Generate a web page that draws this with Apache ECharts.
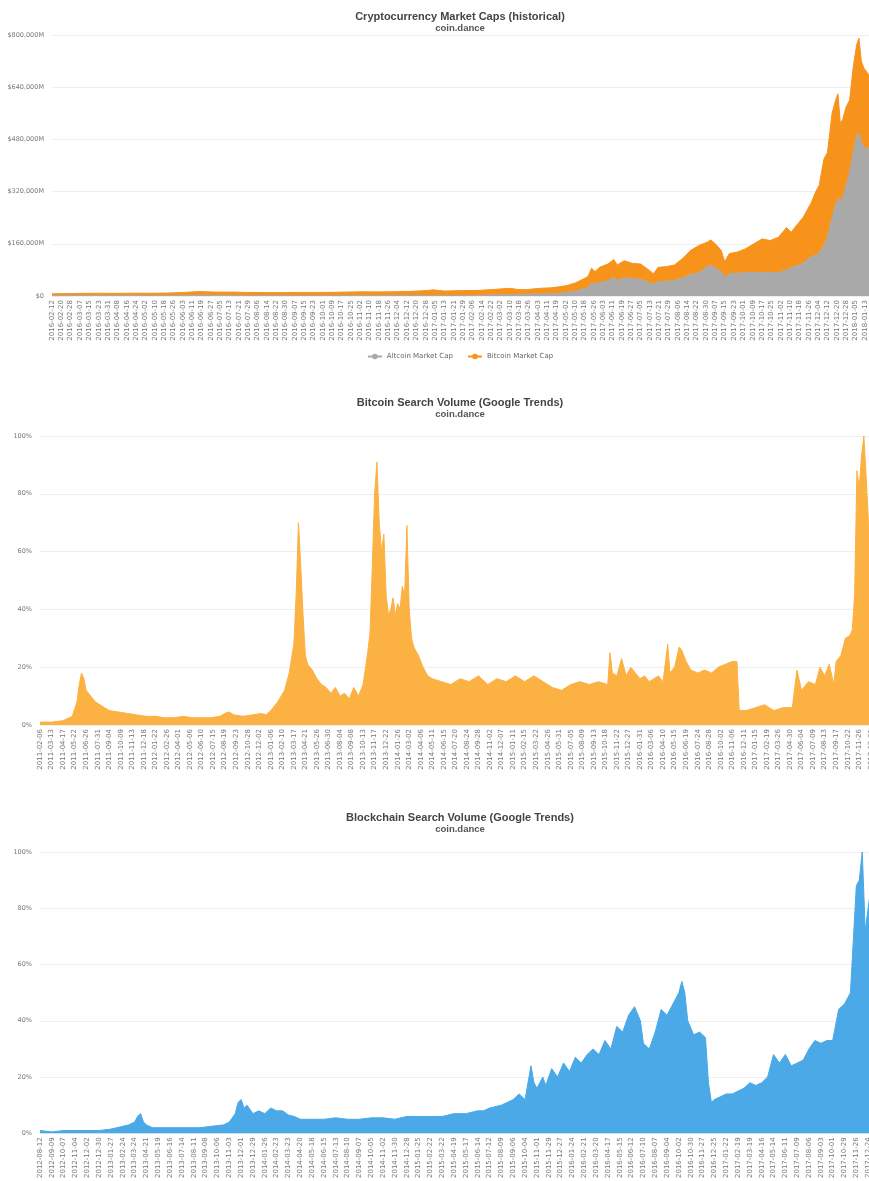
<!DOCTYPE html>
<html><head><meta charset="utf-8">
<script src="https://cdn.jsdelivr.net/npm/echarts@6/dist/echarts.min.js"></script>
<style>
html,body{margin:0;padding:0;width:869px;height:1181px;overflow:hidden;background:#fff}
.c{position:absolute;left:0;width:920px}
</style></head>
<body>
<div id="c1" class="c" style="top:0;height:372px"></div>
<div id="c2" class="c" style="top:386px;height:400px"></div>
<div id="c3" class="c" style="top:801px;height:380px"></div>
<script>
// ---------- Chart 1: market caps (daily categories, sampled values in $M) ----------
const capStart = '2016-02-12';
const capDays = 710;
const capSkip = ['2017-04-21','2017-04-22','2017-04-23','2017-04-24','2017-04-25'];
const capIdx = [0,14,28,42,56,70,84,98,112,126,140,154,168,182,196,210,224,238,252,266,280,294,308,322,326,336,350,364,378,392,399,406,413,420,427,434,441,448,455,459,462,465,469,476,481,484,490,497,504,511,515,519,526,533,540,547,554,561,564,568,573,576,580,587,594,601,608,615,622,629,633,636,643,650,654,657,661,664,668,671,673,675,677,680,683,686,689,691,693,695,697,699,702,705,709];
const capAlt = [1000,1200,2100,2000,1600,1700,1600,1800,2100,2800,2100,2200,1800,1600,1400,1500,1500,1400,1500,1500,1500,1500,1600,1700,1800,1600,1600,2000,3500,4500,5000,5500,6500,6500,7000,8500,11000,15000,22000,26000,40000,36000,41000,47000,58000,48000,56000,53000,52000,42000,36000,44000,45000,48000,55000,66000,71000,90000,94000,86000,75000,58000,68000,70000,72000,71000,73000,72000,72000,80000,88000,90000,100000,120000,125000,132000,155000,180000,240000,280000,300000,290000,300000,340000,380000,440000,490000,500000,470000,460000,450000,455000,370000,380000,360000];
const capBtc = [5800,6100,6200,6500,6600,7100,7000,7200,8700,10800,9900,9800,9200,9000,9100,9500,9600,9800,10500,11300,11100,11700,12800,15300,17200,13400,14900,15000,16500,19000,15000,14000,15500,17500,18000,19500,21000,25000,30000,34000,45000,39000,47000,51000,54000,47000,52000,47000,46000,38000,32000,44000,45000,47000,60000,74000,84000,75000,78000,74000,65000,47000,62000,65000,73000,89000,102000,98000,108000,130000,107000,120000,140000,165000,195000,208000,265000,260000,320000,320000,320000,240000,240000,240000,220000,260000,280000,290000,250000,240000,240000,225000,190000,200000,180000];
const capTicks = [0,160000,320000,480000,640000,800000];

// ---------- Chart 2: Bitcoin search volume (weekly) ----------
const btcStart = '2011-02-06';
const btcWeeks = 365;
const btcIdx = [0,5,10,14,16,17,18,19,20,22,24,26,28,30,34,38,42,46,50,54,58,62,66,70,74,78,80,82,84,88,92,96,98,100,103,106,108,110,111,112,113,114,115,116,118,120,122,124,126,128,130,132,134,136,138,140,142,143,144,145,146,147,148,149,150,151,152,153,154,155,156,157,158,159,160,161,162,164,166,168,170,174,178,182,186,190,194,198,202,206,210,214,218,222,226,230,234,238,242,246,247,248,250,252,254,256,258,260,262,264,266,268,270,272,273,275,277,278,280,282,285,288,291,294,297,300,302,303,306,310,314,318,322,326,328,330,333,336,338,340,342,344,345,347,349,351,352,353,354,355,356,357,358,359,360,361,362,364];
const btcVals = [1,1,1.5,3,8,14,18,16,12,10,8,7,6,5,4.5,4,3.5,3,3,2.5,2.5,3,2.5,2.5,2.5,3,4,4.5,3.5,3,3.5,4,3.5,5,8,12,18,28,45,70,55,38,24,21,19,16,14,13,11,13,10,11,9,13,10,14,25,32,55,80,91,70,60,66,45,38,40,44,38,42,40,48,45,69,40,30,27,24,20,17,16,15,14,16,15,17,14,16,15,17,15,17,15,13,12,14,15,14,15,14,25,18,17,23,17,20,18,16,17,15,16,17,15,28,18,20,27,26,22,19,18,19,18,20,21,22,22,5,5,6,7,5,6,6,19,12,15,14,20,17,21,14,22,24,30,31,33,45,88,82,93,100,86,70,60,55,50,45];

// ---------- Chart 3: Blockchain search volume (weekly) ----------
const bcStart = '2012-08-12';
const bcWeeks = 285;
const bcIdx = [0,4,8,12,16,20,24,26,28,30,32,33,34,35,36,38,42,46,50,54,58,62,64,66,67,68,69,70,72,74,76,78,80,82,84,86,88,92,96,100,104,108,112,116,120,124,128,132,136,140,144,148,150,152,156,160,162,164,166,167,168,170,171,173,175,177,179,181,183,185,187,189,191,193,195,197,199,201,203,204,206,208,210,212,214,216,217,218,219,221,223,225,226,227,228,230,232,234,236,238,240,242,244,246,248,250,252,254,256,258,260,262,264,266,268,270,272,274,276,277,278,279,280,281,282,284];
const bcVals = [1,0.5,1,1,1,1,1.5,2,2.5,3,4,6,7,4,3,2,2,2,2,2,2.5,3,4,7,11,12,9,10,7,8,7,9,8,8,6.5,6,5,5,5,5.5,5,5,5.5,5.5,5,6,6,6,6,7,7,8,8,9,10,12,14,12,24,18,16,20,17,23,20,25,22,27,25,28,30,28,33,30,38,36,42,45,40,32,30,36,44,42,46,50,54,50,40,35,36,34,18,11,12,13,14,14,15,16,18,17,18,20,28,25,28,24,25,26,30,33,32,33,33,44,46,50,88,90,100,72,80,88,85,70];
const pctTicks = [0,20,40,60,80,100];

// ---------- helpers ----------
function ymd(d){ return d.toISOString().slice(0,10); }
function dailyCats(start, n, skip){
  const out = []; const d = new Date(start + 'T00:00:00Z');
  while (out.length < n){ const s = ymd(d); if (skip.indexOf(s) < 0) out.push(s); d.setUTCDate(d.getUTCDate()+1); }
  return out;
}
function weeklyCats(start, n){
  const out = []; const d = new Date(start + 'T00:00:00Z');
  for (let i=0;i<n;i++){ out.push(ymd(d)); d.setUTCDate(d.getUTCDate()+7); }
  return out;
}
const capCats = dailyCats(capStart, capDays, capSkip);
const btcCats = weeklyCats(btcStart, btcWeeks);
const bcCats = weeklyCats(bcStart, bcWeeks);

const TITLE_FONT = "'Liberation Sans Narrow', 'Liberation Sans', Arial, sans-serif";
const AXIS_FONT = "'DejaVu Sans', Verdana, sans-serif";

function baseOption(title, cats, interval, gridLeft, gridTop, gridH, ticks, fmt){
  return {
    animation: false,
    title: {
      text: title, subtext: 'coin.dance', left: 'center', top: 6, itemGap: 1,
      textStyle: {fontFamily: TITLE_FONT, fontSize: 11, fontWeight: 'bold', color: '#444'},
      subtextStyle: {fontFamily: TITLE_FONT, fontSize: 9.5, fontWeight: 'bold', color: '#555'}
    },
    grid: {left: gridLeft, top: gridTop, height: gridH, right: 40},
    xAxis: {
      type: 'category', data: cats, boundaryGap: false,
      axisLine: {show: false}, axisTick: {show: false},
      axisLabel: {rotate: 90, interval: interval, fontSize: 7, color: '#777', fontFamily: AXIS_FONT, margin: 4}
    },
    yAxis: {
      type: 'value', min: ticks[0], max: ticks[ticks.length-1], interval: ticks[1]-ticks[0],
      axisLine: {show: false}, axisTick: {show: false},
      splitLine: {lineStyle: {color: '#eeeeee', width: 1}},
      axisLabel: {fontSize: 6.5, color: '#777', fontFamily: AXIS_FONT, margin: 8, formatter: fmt}
    }
  };
}

// Chart 1
const c1 = echarts.init(document.getElementById('c1'), null, {renderer: 'canvas'});
const opt1 = baseOption('Cryptocurrency Market Caps (historical)', capCats, 7, 52, 35, 261, capTicks,
  v => v === 0 ? '$0' : '$' + v.toLocaleString('en-US') + 'M');
opt1.legend = {top: 348, left: 'center', itemWidth: 14, itemHeight: 7, itemGap: 14,
  textStyle: {fontSize: 7, color: '#666', fontFamily: AXIS_FONT},
  data: ['Altcoin Market Cap', 'Bitcoin Market Cap']};
opt1.series = [
  {name: 'Altcoin Market Cap', type: 'line', stack: 'cap', symbol: 'none', color: '#a9a9a9',
   lineStyle: {width: 1, color: '#a9a9a9'}, areaStyle: {color: '#a9a9a9', opacity: 1},
   data: capIdx.map((i,k) => [capCats[i], capAlt[k]])},
  {name: 'Bitcoin Market Cap', type: 'line', stack: 'cap', symbol: 'none', color: '#f7931a',
   lineStyle: {width: 1, color: '#f7931a'}, areaStyle: {color: '#f7931a', opacity: 1},
   data: capIdx.map((i,k) => [capCats[i], capBtc[k]])}
];
c1.setOption(opt1);

// Chart 2
const c2 = echarts.init(document.getElementById('c2'));
const opt2 = baseOption('Bitcoin Search Volume (Google Trends)', btcCats, 4, 40, 50, 289, pctTicks, '{value}%');
opt2.series = [{name: 'Bitcoin', type: 'line', symbol: 'none', color: '#fcb143',
  lineStyle: {width: 1, color: '#fcb143'}, areaStyle: {color: '#fcb143', opacity: 1},
  data: btcIdx.map((i,k) => [btcCats[i], btcVals[k]])}];
c2.setOption(opt2);

// Chart 3
const c3 = echarts.init(document.getElementById('c3'));
const opt3 = baseOption('Blockchain Search Volume (Google Trends)', bcCats, 3, 40, 51, 283, pctTicks, '{value}%');
opt3.series = [{name: 'Blockchain', type: 'line', symbol: 'none', color: '#4aa9e6',
  lineStyle: {width: 1, color: '#4aa9e6'}, areaStyle: {color: '#4aa9e6', opacity: 1},
  data: bcIdx.map((i,k) => [bcCats[i], bcVals[k]])}];
c3.setOption(opt3);
</script>
</body></html>
